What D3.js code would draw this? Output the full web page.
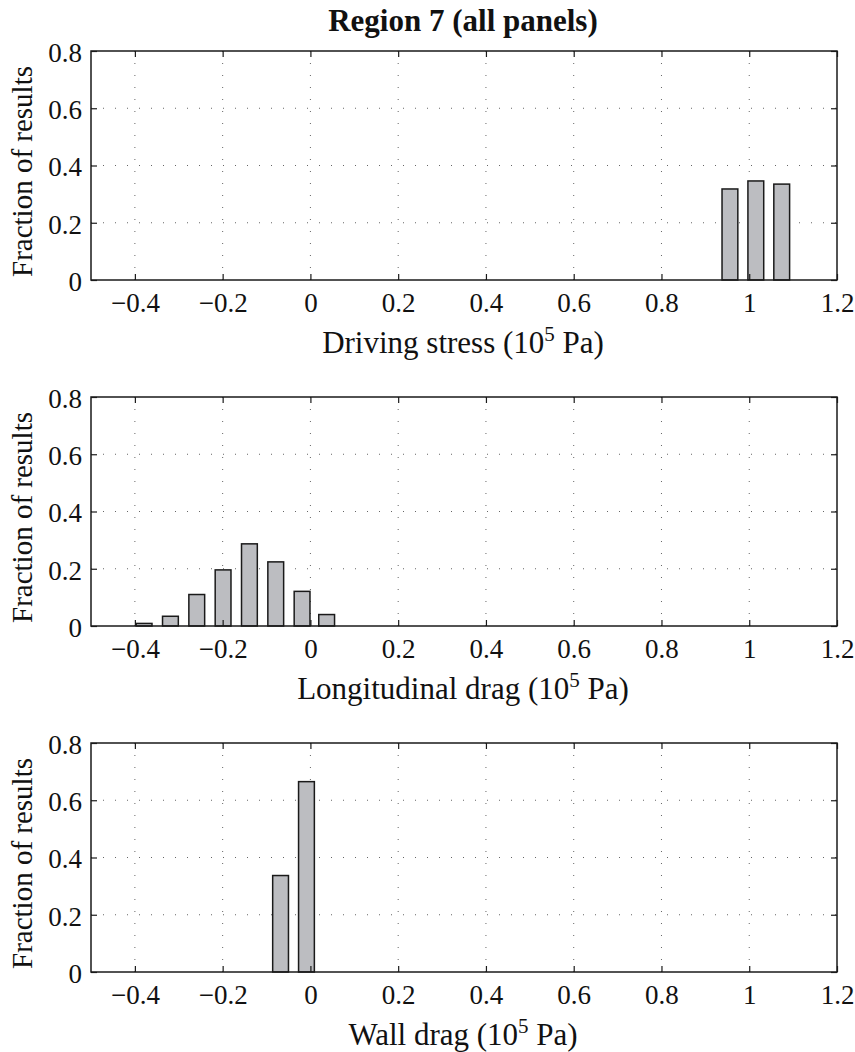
<!DOCTYPE html>
<html>
<head>
<meta charset="utf-8">
<script src="https://cdn.jsdelivr.net/npm/d3@7"></script>
<style>
body{margin:0;background:#fff;}
svg text{font-family:"Liberation Serif","Times New Roman",serif;fill:#111;}
</style>
</head>
<body>
<div id="app"></div>
<script>
// bin centres (10^5 Pa) and fraction of results, one pair per panel
const drivingBins = [0.956, 1.015, 1.074];
const drivingVals = [0.318, 0.346, 0.335];
const longBins = [-0.379, -0.319, -0.259, -0.199, -0.139, -0.079, -0.019, 0.037];
const longVals = [0.009, 0.034, 0.110, 0.196, 0.287, 0.224, 0.121, 0.040];
const wallBins = [-0.068, -0.009];
const wallVals = [0.337, 0.665];

const xTicks = [-0.4, -0.2, 0, 0.2, 0.4, 0.6, 0.8, 1, 1.2];
const yTicks = [0, 0.2, 0.4, 0.6, 0.8];
const panelLabels = ["Driving stress", "Longitudinal drag", "Wall drag"];

const W = 855, H = 1052;
const left = 91, right = 837, binW = 0.036;
const panelTops = [51, 397, 743], panelH = 229;

const svg = d3.select("#app").append("svg").attr("width", W).attr("height", H);

svg.append("text").attr("x", 463).attr("y", 31).attr("text-anchor", "middle")
	.style("font-size", "31px").style("font-weight", "bold").text("Region 7 (all panels)");

const x = d3.scaleLinear().domain([-0.5, 1.2]).range([left, right]);

function fmt(v){
	let s = d3.format("")(+v.toFixed(1));
	return s.replace("-", "\u2013");
}

function drawPanel(i, bins, vals){
	let top = panelTops[i];
	let y = d3.scaleLinear().domain([0, 0.8]).range([top + panelH, top]);
	let g = svg.append("g");

	// dotted grid
	g.selectAll("line.gx").data(xTicks.filter(d => d > -0.5 && d < 1.2)).enter().append("line")
		.attr("x1", d => x(d)).attr("x2", d => x(d)).attr("y1", top).attr("y2", top + panelH)
		.attr("stroke", "#666").attr("stroke-width", 1).attr("stroke-dasharray", "1,11");
	g.selectAll("line.gy").data(yTicks.slice(1, -1)).enter().append("line")
		.attr("x1", left).attr("x2", right).attr("y1", d => y(d)).attr("y2", d => y(d))
		.attr("stroke", "#666").attr("stroke-width", 1).attr("stroke-dasharray", "1,11");

	// bars
	g.selectAll("rect.bar").data(bins).enter().append("rect")
		.attr("x", d => x(d - binW / 2)).attr("width", x(binW) - x(0))
		.attr("y", (d, j) => y(vals[j])).attr("height", (d, j) => y(0) - y(vals[j]))
		.attr("fill", "#bcbdc1").attr("stroke", "#1a1a1a").attr("stroke-width", 1.5);

	// frame
	g.append("rect").attr("x", left).attr("y", top).attr("width", right - left).attr("height", panelH)
		.attr("fill", "none").attr("stroke", "#1a1a1a").attr("stroke-width", 1.5);

	// inward ticks on all sides
	let bot = d3.axisBottom(x).tickValues(xTicks).tickSizeInner(-6).tickSizeOuter(0).tickFormat(fmt).tickPadding(13);
	let ga = g.append("g").attr("transform", `translate(0,${top + panelH})`).call(bot);
	let topAx = d3.axisTop(x).tickValues(xTicks).tickSizeInner(-6).tickSizeOuter(0).tickFormat("");
	let gt = g.append("g").attr("transform", `translate(0,${top})`).call(topAx);
	let lAx = d3.axisLeft(y).tickValues(yTicks).tickSizeInner(-6).tickSizeOuter(0).tickFormat(d => d3.format("")(+d.toFixed(1))).tickPadding(9);
	let gl = g.append("g").attr("transform", `translate(${left},0)`).call(lAx);
	let rAx = d3.axisRight(y).tickValues(yTicks).tickSizeInner(-6).tickSizeOuter(0).tickFormat("");
	let gr = g.append("g").attr("transform", `translate(${right},0)`).call(rAx);
	[ga, gt, gl, gr].forEach(a => {
		a.select(".domain").remove();
		a.selectAll("line").attr("stroke", "#1a1a1a").attr("stroke-width", 1.2);
		a.selectAll("text").style("font-size", "27px").attr("fill", "#111")
			.style("font-family", "'Liberation Serif','Times New Roman',serif");
	});
	ga.selectAll("text").attr("dy", null).attr("y", 32);
	gl.selectAll("text").attr("dy", "0.38em");

	// axis labels
	g.append("text").attr("transform", `translate(32,${top + panelH / 2 + 6}) rotate(-90)`)
		.attr("text-anchor", "middle").style("font-size", "29px").text("Fraction of results");
	let xl = g.append("text").attr("x", 463).attr("y", top + panelH + 73)
		.attr("text-anchor", "middle").style("font-size", "31px");
	xl.append("tspan").text(panelLabels[i] + " (10");
	xl.append("tspan").attr("dy", -12).style("font-size", "21px").text("5");
	xl.append("tspan").attr("dy", 12).text(" Pa)");
}

drawPanel(0, drivingBins, drivingVals);
drawPanel(1, longBins, longVals);
drawPanel(2, wallBins, wallVals);
</script>
</body>
</html>
